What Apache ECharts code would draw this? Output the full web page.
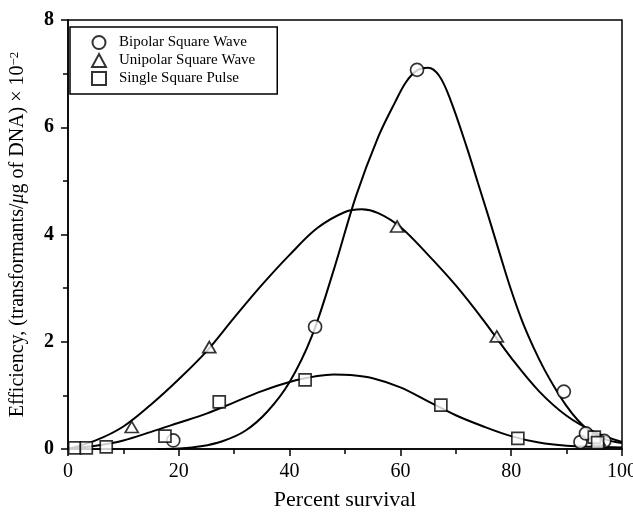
<!DOCTYPE html>
<html>
<head>
<meta charset="utf-8">
<script src="https://cdn.jsdelivr.net/npm/echarts@6/dist/echarts.min.js"></script>
<style>
  html, body { margin: 0; padding: 0; background: #fff; }
  #main { width: 633px; height: 512px; }
</style>
</head>
<body>
<div id="main"></div>
<script>
// measured points
var bipolarX = [19, 44.6, 63, 89.5, 92.5, 93.5, 96.8];
var bipolarY = [0.16, 2.28, 7.07, 1.07, 0.13, 0.29, 0.15];
var unipolarX = [11.5, 25.5, 59.4, 77.4, 95.8];
var unipolarY = [0.41, 1.9, 4.15, 2.1, 0.17];
var pulseX = [1.2, 3.3, 6.9, 17.5, 27.3, 42.8, 67.3, 81.2, 95, 95.6];
var pulseY = [0.02, 0.02, 0.04, 0.24, 0.88, 1.29, 0.82, 0.2, 0.22, 0.12];

// fitted curves
var bipolarFitX = [16, 20, 24, 28, 32, 36, 40, 44, 48, 52, 56, 59, 61, 63, 65, 67, 69, 72, 74, 76, 78, 80, 82, 84, 86, 88, 90, 92, 94, 97, 100];
var bipolarFitY = [0, 0.01, 0.05, 0.15, 0.34, 0.70, 1.25, 2.10, 3.35, 4.72, 5.82, 6.46, 6.84, 7.06, 7.11, 6.96, 6.52, 5.62, 4.96, 4.30, 3.62, 2.96, 2.38, 1.90, 1.48, 1.12, 0.80, 0.54, 0.35, 0.18, 0.11];
var unipolarFitX = [0, 5, 10, 15, 20, 25, 30, 35, 40, 45, 50, 53, 56, 60, 65, 70, 75, 80, 85, 90, 95, 100];
var unipolarFitY = [0, 0.16, 0.42, 0.83, 1.30, 1.82, 2.45, 3.06, 3.62, 4.12, 4.42, 4.47, 4.40, 4.14, 3.62, 3.05, 2.40, 1.70, 1.08, 0.62, 0.32, 0.13];
var pulseFitX = [0, 5, 10, 15, 20, 25, 30, 35, 40, 45, 48, 51, 55, 60, 65, 70, 75, 80, 85, 90, 95, 100];
var pulseFitY = [0, 0.06, 0.16, 0.32, 0.49, 0.66, 0.87, 1.08, 1.25, 1.36, 1.39, 1.38, 1.32, 1.15, 0.89, 0.63, 0.42, 0.24, 0.12, 0.06, 0.04, 0.03];

var names = ['Bipolar Square Wave', 'Unipolar Square Wave', 'Single Square Pulse'];
var xTicks = [0, 20, 40, 60, 80, 100];
var yTicks = [0, 2, 4, 6, 8];

function zip(xs, ys) {
  return xs.map(function (x, i) { return [x, ys[i]]; });
}

var serif = '"Liberation Serif", "DejaVu Serif", serif';
var markStyle = { color: '#fff', borderColor: '#000', borderWidth: 1.7 };
var fitLine = function (name, xs, ys) {
  return {
    name: name, type: 'line', data: zip(xs, ys), smooth: 0.35,
    showSymbol: false, silent: true, z: 1,
    lineStyle: { color: '#000', width: 2 }
  };
};

var myChart = echarts.init(document.getElementById('main'));

var option = {
  backgroundColor: '#fff',
  animation: false,
  grid: {
    left: 68, right: 11, top: 20, bottom: 63,
    outerBoundsMode: 'none',
    show: true, borderColor: '#000', borderWidth: 1.5, backgroundColor: 'transparent'
  },
  legend: {
    data: names,
    orient: 'vertical',
    left: 70, top: 27,
    padding: [8, 22, 8, 21],
    itemGap: 3,
    itemWidth: 14, itemHeight: 13,
    borderColor: '#000', borderWidth: 1.5,
    textStyle: { fontFamily: serif, fontSize: 15, color: '#000', padding: [0, 0, 0, 8] }
  },
  xAxis: {
    type: 'value', min: 0, max: 100, interval: 20,
    name: 'Percent survival', nameLocation: 'middle', nameGap: 40,
    nameTextStyle: { fontFamily: serif, fontSize: 22, color: '#000' },
    axisLine: { lineStyle: { color: '#000', width: 1.5 } },
    axisTick: { length: 7, lineStyle: { color: '#000', width: 1.5 } },
    minorTick: { show: true, splitNumber: 2, length: 5, lineStyle: { color: '#000', width: 1.5 } },
    splitLine: { show: false },
    axisLabel: {
      fontFamily: serif, fontSize: 20, color: '#000', margin: 13,
      formatter: function (v) { return xTicks.indexOf(v) >= 0 ? String(v) : ''; }
    }
  },
  yAxis: {
    type: 'value', min: 0, max: 8, interval: 2,
    name: '{a|Efficiency, (transformants/}{i|μ}{a|g of DNA) × 10}{s|−2}',
    nameLocation: 'middle', nameGap: 40, nameRotate: 90,
    nameTextStyle: {
      fontFamily: serif, fontSize: 20, color: '#000',
      rich: {
        a: { fontFamily: serif, fontSize: 20, color: '#000' },
        i: { fontFamily: serif, fontSize: 20, color: '#000', fontStyle: 'italic' },
        s: { fontFamily: serif, fontSize: 13, color: '#000', verticalAlign: 'top' }
      }
    },
    axisLine: { lineStyle: { color: '#000', width: 1.5 } },
    axisTick: { length: 7, lineStyle: { color: '#000', width: 1.5 } },
    minorTick: { show: true, splitNumber: 2, length: 5, lineStyle: { color: '#000', width: 1.5 } },
    splitLine: { show: false },
    axisLabel: {
      fontFamily: serif, fontSize: 20, fontWeight: 'bold', color: '#000', margin: 14,
      formatter: function (v) { return yTicks.indexOf(v) >= 0 ? String(v) : ''; }
    }
  },
  series: [
    fitLine('Bipolar fit', bipolarFitX, bipolarFitY),
    fitLine('Unipolar fit', unipolarFitX, unipolarFitY),
    fitLine('Pulse fit', pulseFitX, pulseFitY),
    {
      name: names[0], type: 'scatter', symbol: 'circle', symbolSize: 13, z: 3,
      data: zip(bipolarX, bipolarY), itemStyle: markStyle
    },
    {
      name: names[1], type: 'scatter', symbol: 'triangle', symbolSize: [13, 11], z: 3,
      data: zip(unipolarX, unipolarY), itemStyle: markStyle
    },
    {
      name: names[2], type: 'scatter', symbol: 'rect', symbolSize: 12, z: 3,
      data: zip(pulseX, pulseY), itemStyle: markStyle
    }
  ]
};

myChart.setOption(option);
</script>
</body>
</html>
